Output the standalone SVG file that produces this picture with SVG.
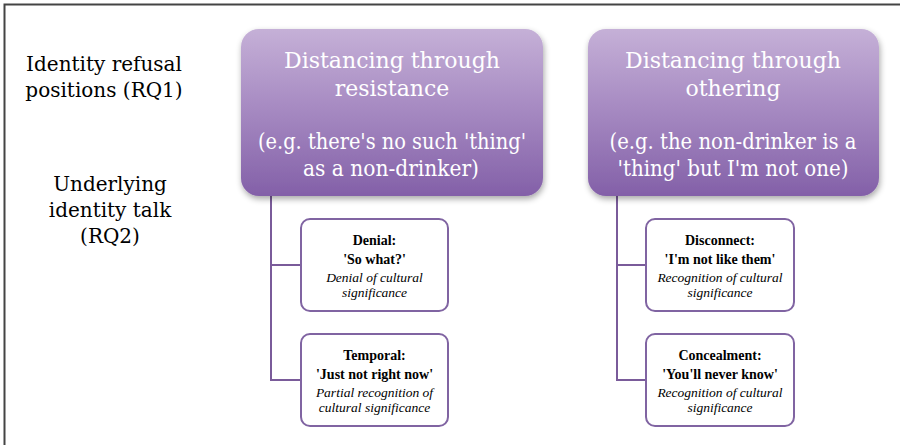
<svg xmlns="http://www.w3.org/2000/svg" width="900" height="445" viewBox="0 0 900 445">
<defs>
<linearGradient id="pg" x1="0" y1="0" x2="0" y2="1">
<stop offset="0" stop-color="#C5B0D7"/>
<stop offset="0.45" stop-color="#A88CC3"/>
<stop offset="1" stop-color="#8360A8"/>
</linearGradient>
<filter id="sh" x="-10%" y="-10%" width="120%" height="130%">
<feGaussianBlur in="SourceAlpha" stdDeviation="3"/>
<feOffset dx="1" dy="3"/>
<feComponentTransfer><feFuncA type="linear" slope="0.35"/></feComponentTransfer>
<feMerge><feMergeNode/><feMergeNode in="SourceGraphic"/></feMerge>
</filter>
<style>
.t{text-anchor:middle}
.lab{font-family:"DejaVu Serif",serif;font-size:20px;fill:#000}
.hd{font-family:"DejaVu Serif",serif;font-size:22px;fill:#fff}
.sb{fill:#fff;stroke:#8064A2;stroke-width:2}
.b{font-family:"Liberation Serif",serif;font-size:14px;font-weight:bold;fill:#000}
.i{font-family:"Liberation Serif",serif;font-size:13.5px;font-style:italic;fill:#000}
.c{fill:none;stroke:#7A5B9A;stroke-width:2}
</style>
</defs>
<rect width="900" height="445" fill="#fff"/>
<path d="M4.5,445 V4.5 H900" fill="none" stroke="#444" stroke-width="2"/>
<g id="labels">
<text class="t lab" x="104" y="71">Identity refusal</text>
<text class="t lab" x="104" y="97">positions (RQ1)</text>
<text class="t lab" x="110" y="191">Underlying</text>
<text class="t lab" x="110" y="217">identity talk</text>
<text class="t lab" x="110" y="243">(RQ2)</text>
</g>
<g id="connectors">
<path class="c" d="M271,196 V380 H301 M271,265 H301"/>
<path class="c" d="M617,196 V380 H646 M617,265 H646"/>
</g>
<g id="resistance">
<rect x="241" y="29" width="302" height="167" rx="18" fill="url(#pg)" filter="url(#sh)"/>
<text class="t hd" x="392" y="68">Distancing through</text>
<text class="t hd" x="392" y="96">resistance</text>
<text class="t hd" x="392" y="149" textLength="268" lengthAdjust="spacingAndGlyphs">(e.g. there's no such 'thing'</text>
<text class="t hd" x="391" y="176" textLength="176" lengthAdjust="spacingAndGlyphs">as a non-drinker)</text>
</g>
<g id="othering">
<rect x="588" y="29" width="291" height="167" rx="18" fill="url(#pg)" filter="url(#sh)"/>
<text class="t hd" x="733" y="68">Distancing through</text>
<text class="t hd" x="733" y="96">othering</text>
<text class="t hd" x="733" y="149" textLength="247" lengthAdjust="spacingAndGlyphs">(e.g. the non-drinker is a</text>
<text class="t hd" x="733" y="176" textLength="231" lengthAdjust="spacingAndGlyphs">'thing' but I'm not one)</text>
</g>
<g id="denial">
<rect class="sb" x="301" y="219" width="147" height="92" rx="9"/>
<text class="t b" x="374.5" y="245">Denial:</text>
<text class="t b" x="374.5" y="264">'So what?'</text>
<text class="t i" x="374.5" y="282">Denial of cultural</text>
<text class="t i" x="374.5" y="297">significance</text>
</g>
<g id="temporal">
<rect class="sb" x="301" y="334" width="147" height="92" rx="9"/>
<text class="t b" x="374.5" y="360">Temporal:</text>
<text class="t b" x="374.5" y="379">'Just not right now'</text>
<text class="t i" x="374.5" y="397">Partial recognition of</text>
<text class="t i" x="374.5" y="412">cultural significance</text>
</g>
<g id="disconnect">
<rect class="sb" x="646" y="219" width="148" height="92" rx="9"/>
<text class="t b" x="720" y="245">Disconnect:</text>
<text class="t b" x="720" y="264">'I'm not like them'</text>
<text class="t i" x="720" y="282">Recognition of cultural</text>
<text class="t i" x="720" y="297">significance</text>
</g>
<g id="concealment">
<rect class="sb" x="646" y="334" width="148" height="92" rx="9"/>
<text class="t b" x="720" y="360">Concealment:</text>
<text class="t b" x="720" y="379">'You'll never know'</text>
<text class="t i" x="720" y="397">Recognition of cultural</text>
<text class="t i" x="720" y="412">significance</text>
</g>
</svg>
